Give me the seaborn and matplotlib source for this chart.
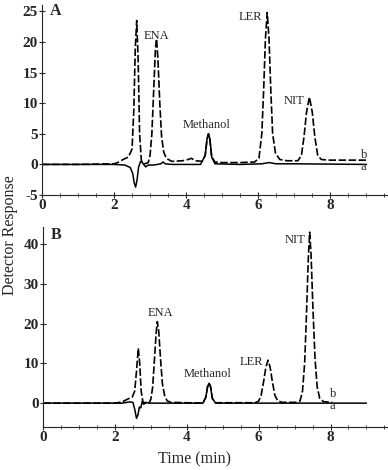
import pandas as pd
import matplotlib.pyplot as plt
import seaborn as sns
from matplotlib.ticker import MultipleLocator

# chromatogram traces, time (min) vs detector response
# panel A, trace b (dashed)
a_b_time = [0, 1.0, 2.0, 2.1, 2.25, 2.4, 2.5, 2.55, 2.59, 2.63, 2.67, 2.71, 2.76, 2.85, 2.95, 3.0,
            3.05, 3.1, 3.15, 3.18, 3.22, 3.27, 3.32, 3.38, 3.45, 3.6, 3.9, 4.05, 4.15, 4.25, 4.45,
            4.53, 4.58, 4.62, 4.66, 4.71, 4.8, 5.0, 5.5, 5.9, 6.02, 6.1, 6.15, 6.2, 6.25, 6.3, 6.35,
            6.4, 6.48, 6.6, 6.8, 7.1, 7.2, 7.27, 7.34, 7.42, 7.5, 7.57, 7.65, 7.75, 8.0, 9.0]
a_b_resp = [0, 0, 0.1, 0.3, 0.8, 1.2, 2.5, 9, 19, 23.5, 17, 5, 0.5, 0.1, 0.3, 1.5,
            5, 12, 19, 20.5, 17, 10, 4.5, 2, 1, 0.5, 0.6, 0.8, 1.0, 0.6, 0.5,
            1.5, 4, 5, 4, 1.2, 0.4, 0.3, 0.3, 0.4, 1, 5, 12, 20.5, 24.8, 20.5, 12,
            5, 1.8, 0.8, 0.6, 0.6, 1.5, 4.5, 8.5, 11, 8.5, 4.5, 1.5, 0.8, 0.7, 0.7]
# panel A, trace a (solid)
a_a_time = [0, 2.0, 2.3, 2.45, 2.52, 2.56, 2.6, 2.64, 2.68, 2.73, 2.77, 2.82, 2.88, 2.95, 3.1, 3.3,
            3.36, 3.42, 3.6, 4.4, 4.53, 4.58, 4.62, 4.66, 4.71, 4.8, 5.5, 6.1, 6.3, 6.5, 7.0, 9.0]
a_a_resp = [0, 0, -0.1, -0.5, -1.5, -3, -3.7, -2.5, -0.5, 0.4, 0.5, 0, -0.4, -0.1, -0.1, 0.1,
            0.4, 0.1, 0, 0, 1.5, 4.2, 5, 4.2, 1.2, 0.1, 0, 0.1, 0.3, 0.1, 0.1, 0]

# panel B, trace b (dashed)
b_b_time = [0, 2.0, 2.2, 2.35, 2.48, 2.55, 2.6, 2.65, 2.69, 2.73, 2.78, 2.85, 2.95, 3.0, 3.05, 3.1,
            3.15, 3.18, 3.22, 3.27, 3.32, 3.38, 3.45, 3.55, 4.45, 4.53, 4.58, 4.62, 4.66, 4.71, 4.8,
            5.9, 6.0, 6.07, 6.14, 6.2, 6.26, 6.32, 6.38, 6.45, 6.53, 6.65, 7.05, 7.15, 7.22, 7.28,
            7.33, 7.38, 7.42, 7.46, 7.51, 7.57, 7.63, 7.7, 7.8, 7.9, 8.05]
b_b_resp = [0, 0, 0.3, 1.0, 1.5, 3, 8, 13.8, 10, 3, 0.3, 0, 0, 1, 4, 11,
            18, 20.5, 18, 11, 5, 2, 0.6, 0.2, 0, 1.5, 4.2, 5, 4.2, 1.2, 0.1,
            0.1, 0.5, 2, 5.5, 9, 10.8, 9, 5.5, 2, 0.6, 0.2, 0.2, 0.5, 3, 10,
            22, 36, 43, 37, 24, 11, 4, 1.2, 0.4, 0.3, 0.2]
# panel B, trace a (solid)
b_a_time = [0, 2.2, 2.4, 2.5, 2.55, 2.6, 2.64, 2.68, 2.72, 2.76, 2.8, 2.86, 2.95, 3.3, 4.45, 4.53,
            4.58, 4.62, 4.66, 4.71, 4.8, 9.0]
b_a_resp = [0, 0, 0.3, 0.2, -1.5, -3.8, -3, -1, -1.2, 0.5, -0.3, 0.2, 0, 0, 0, 1.5,
            4.2, 5, 4.2, 1.2, 0, 0]

x_ticks = [0, 2, 4, 6, 8]
a_ticks = [-5, 0, 5, 10, 15, 20, 25]
b_ticks = [0, 10, 20, 30, 40]

sns.set_style('ticks')
plt.rcParams['font.family'] = ['Liberation Serif', 'DejaVu Serif']

fig = plt.figure(figsize=(3.88, 4.70), dpi=100)
axA = fig.add_axes([0.108, 0.585, 0.892, 0.404])
axB = fig.add_axes([0.111, 0.0915, 0.889, 0.4255])

dash = (0, (4.5, 1.5))


def draw(ax, t_b, y_b, t_a, y_a, yticks):
    df_b = pd.DataFrame({'time': t_b, 'resp': y_b})
    df_a = pd.DataFrame({'time': t_a, 'resp': y_a})
    sns.lineplot(data=df_a, x='time', y='resp', ax=ax, color='black', lw=1.1,
                 sort=False, estimator=None)
    sns.lineplot(data=df_b, x='time', y='resp', ax=ax, color='black', lw=1.2,
                 linestyle=dash, sort=False, estimator=None)
    ax.set_xlim(0, 9.6)
    ax.set_xticks(x_ticks, labels=[str(v) for v in x_ticks], fontweight='bold', fontsize=11)
    ax.set_yticks(yticks, labels=[str(v) for v in yticks], fontweight='bold', fontsize=11)
    ax.xaxis.set_minor_locator(MultipleLocator(0.5))
    ax.tick_params(which='major', direction='inout', length=4, width=0.8, pad=1)
    ax.tick_params(which='minor', direction='inout', length=2.5, width=0.6)
    sns.despine(ax=ax)
    ax.set_xlabel('')
    ax.set_ylabel('')


draw(axA, a_b_time, a_b_resp, a_a_time, a_a_resp, a_ticks)
axA.set_ylim(-5, 26)
axA.text(0.22, 25, 'A', fontsize=11.5, fontweight='bold', va='center')
axA.text(2.83, 21, 'ENA', fontsize=9, va='center')
axA.text(3.9, 6.5, 'Methanol', fontsize=9, va='center')
axA.text(5.46, 24, 'LER', fontsize=9, va='center')
axA.text(6.7, 10.3, 'NIT', fontsize=9, va='center')
axA.text(8.85, 1.5, 'b', fontsize=9, va='center')
axA.text(8.85, -0.5, 'a', fontsize=9, va='center')

draw(axB, b_b_time, b_b_resp, b_a_time, b_a_resp, b_ticks)
axB.set_ylim(-6, 44.3)
axB.text(0.2, 42.3, 'B', fontsize=11.5, fontweight='bold', va='center')
axB.text(2.9, 22.7, 'ENA', fontsize=9, va='center')
axB.text(3.9, 7.3, 'Methanol', fontsize=9, va='center')
axB.text(5.48, 10.3, 'LER', fontsize=9, va='center')
axB.text(6.73, 41, 'NIT', fontsize=9, va='center')
axB.text(7.98, 2.3, 'b', fontsize=9, va='center')
axB.text(7.98, -0.8, 'a', fontsize=9, va='center')

fig.text(0.027, 0.5, 'Detector Response', rotation=90, fontsize=11.5, ha='center', va='center')
fig.text(0.5, 0.022, 'Time (min)', fontsize=11.5, ha='center', va='center')

fig.savefig('out.png', dpi=100)
